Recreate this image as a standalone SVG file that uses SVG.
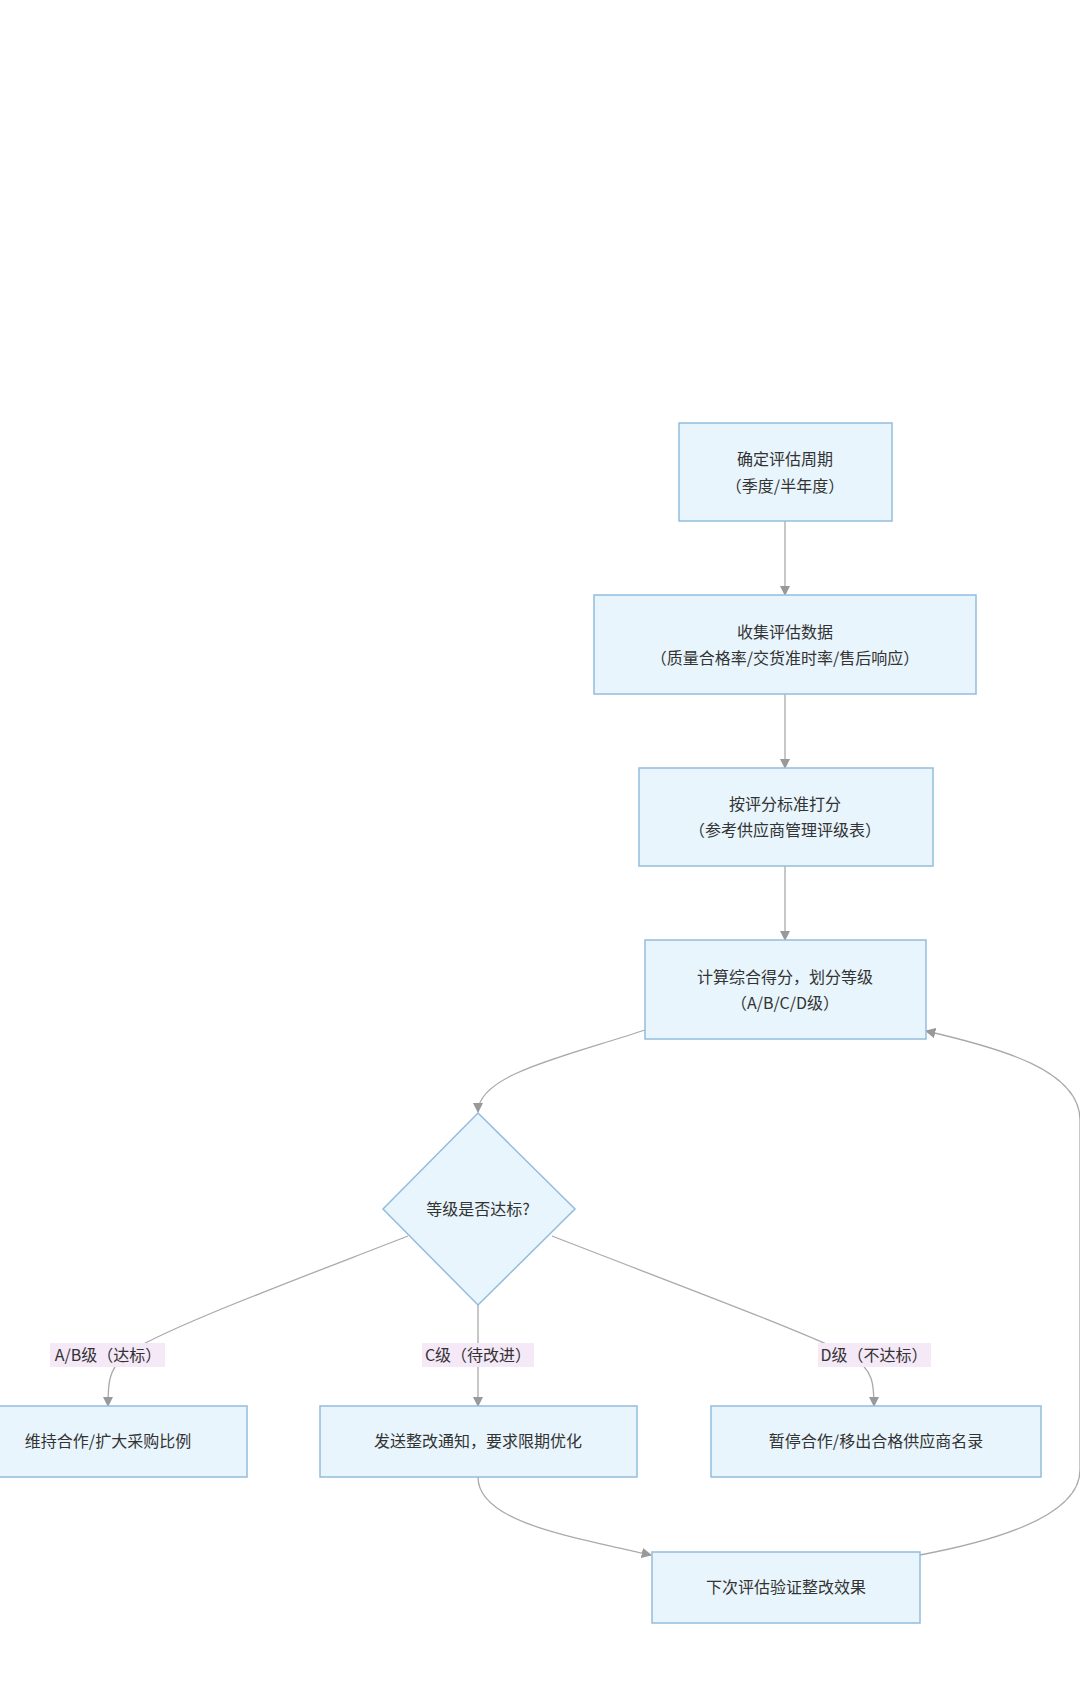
<svg xmlns="http://www.w3.org/2000/svg" width="1080" height="1697" viewBox="0 0 1080 1697">
<defs>
<marker id="ar" viewBox="0 0 10 10" refX="9" refY="5" markerWidth="8" markerHeight="8" orient="auto-start-reverse"><path d="M0,0L10,5L0,10z" fill="#999"/></marker>
<style>
.n{fill:#e8f5fc;stroke:#94bcdc;stroke-width:1.5}
.t{font-family:"Noto Sans CJK SC","Liberation Sans",sans-serif;font-size:16px;fill:#333;text-anchor:middle}
.e{fill:none;stroke:#aaa;stroke-width:1.3;marker-end:url(#ar)}
.lb{fill:#f5e9f8}
</style>
</defs>
<rect width="1080" height="1697" fill="#fff"/>
<g id="edges">
<path class="e" d="M785,521V595"/>
<path class="e" d="M785,694V768"/>
<path class="e" d="M785,866V940"/>
<path class="e" d="M645,1030C560,1058 478,1075 478,1112"/>
<path class="e" d="M408,1236C290,1282 160,1330 125,1355C108,1370 108,1385 108,1406"/>
<path class="e" d="M478,1305V1406"/>
<path class="e" d="M552,1236C670,1282 800,1330 850,1355C874,1370 874,1385 874,1406"/>
<path class="e" d="M478,1477C478,1520 560,1535 651,1555"/>
<path class="e" d="M920,1555C1000,1540 1080,1515 1080,1470V1120C1080,1070 1000,1048 926,1031"/>
</g>
<g id="labels">
<rect class="lb" x="50" y="1343" width="115" height="24"/><text class="t" x="108" y="1361">A/B级（达标）</text>
<rect class="lb" x="422" y="1343" width="112" height="24"/><text class="t" x="478" y="1361">C级（待改进）</text>
<rect class="lb" x="818" y="1343" width="113" height="24"/><text class="t" x="874" y="1361">D级（不达标）</text>
</g>
<g id="n1"><rect class="n" x="679" y="423" width="213" height="98"/><text class="t" x="785" y="465">确定评估周期</text><text class="t" x="785" y="492">（季度/半年度）</text></g>
<g id="n2"><rect class="n" x="594" y="595" width="382" height="99"/><text class="t" x="785" y="638">收集评估数据</text><text class="t" x="785" y="664">（质量合格率/交货准时率/售后响应）</text></g>
<g id="n3"><rect class="n" x="639" y="768" width="294" height="98"/><text class="t" x="785" y="810">按评分标准打分</text><text class="t" x="785" y="836">（参考供应商管理评级表）</text></g>
<g id="n4"><rect class="n" x="645" y="940" width="281" height="99"/><text class="t" x="785" y="983">计算综合得分，划分等级</text><text class="t" x="785" y="1009">（A/B/C/D级）</text></g>
<g id="d"><path class="n" d="M478,1113L575,1209L478,1305L383,1209Z"/><text class="t" x="478" y="1215">等级是否达标?</text></g>
<g id="a"><rect class="n" x="-31" y="1406" width="278" height="71"/><text class="t" x="108" y="1447">维持合作/扩大采购比例</text></g>
<g id="c"><rect class="n" x="320" y="1406" width="317" height="71"/><text class="t" x="478" y="1447">发送整改通知，要求限期优化</text></g>
<g id="dd"><rect class="n" x="711" y="1406" width="330" height="71"/><text class="t" x="876" y="1447">暂停合作/移出合格供应商名录</text></g>
<g id="f"><rect class="n" x="652" y="1552" width="268" height="71"/><text class="t" x="786" y="1593">下次评估验证整改效果</text></g>
</svg>
